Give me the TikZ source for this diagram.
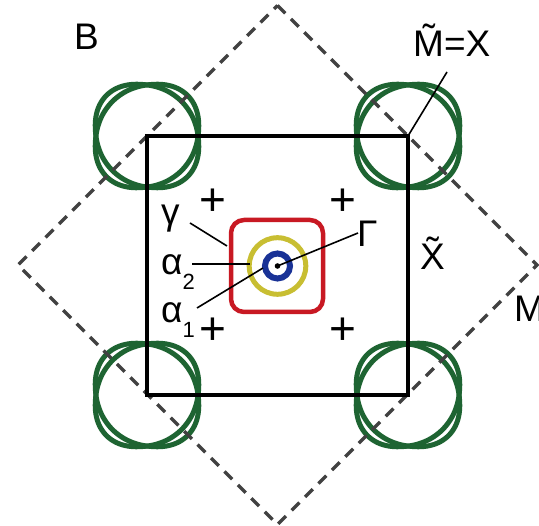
\documentclass[tikz,border=0pt]{standalone}
\usepackage{fontspec}
\setmainfont{Liberation Sans}
\definecolor{fsgreen}{RGB}{30,100,50}
\definecolor{fsred}{RGB}{200,25,35}
\definecolor{fsyellow}{RGB}{200,190,50}
\definecolor{fsblue}{RGB}{25,50,150}
\definecolor{dashgray}{RGB}{65,65,65}
\begin{document}
\begin{tikzpicture}[x=1pt,y=-1pt,
  lbl/.style={font=\fontsize{37}{44}\selectfont, inner sep=0pt, anchor=base west},
  pls/.style={font=\fontsize{46}{50}\selectfont, inner sep=0pt},
  leader/.style={line width=1.6pt, black},
  fsurf/.style={line width=5pt, draw=fsgreen},
  bzone/.style={line width=3.8pt, black, line join=miter},
  bzdash/.style={line width=3.3pt, draw=dashgray, dash pattern=on 11pt off 8pt}]
\useasboundingbox (0,0) rectangle (539,526);
% coordinates
\coordinate (tl) at (147,136);
\coordinate (tr) at (408,136);
\coordinate (bl) at (147,395);
\coordinate (br) at (408,395);
\coordinate (c) at (277.5,266);
\coordinate (dT) at (277.5,5.5);
\coordinate (dR) at (537,265);
\coordinate (dB) at (277.5,524.5);
\coordinate (dL) at (18,265);
% green pockets: two rounded loops stretched along the two diagonals
\foreach \p in {tl,tr,bl,br}{
  \begin{scope}[shift={(\p)}, cm={1,0.08,0.08,1,(0,0)}]
    \draw[fsurf] plot[domain=0.5:357.5, samples=120, smooth cycle, variable=\t]
      ({51.5*cos(\t)*pow(abs(cos(\t)),-0.09)}, {51.5*sin(\t)*pow(abs(sin(\t)),-0.09)});
  \end{scope}
  \begin{scope}[shift={(\p)}, cm={1,-0.08,-0.08,1,(0,0)}]
    \draw[fsurf] plot[domain=0.5:357.5, samples=120, smooth cycle, variable=\t]
      ({51.5*cos(\t)*pow(abs(cos(\t)),-0.09)}, {51.5*sin(\t)*pow(abs(sin(\t)),-0.09)});
  \end{scope}
}
% dashed diamond
\draw[bzdash] (dT) -- (dR) -- (dB) -- (dL) -- cycle;
% black square
\draw[bzone] (tl) -- (tr) -- (br) -- (bl) -- cycle;
% central pockets
\draw[line width=4.5pt, draw=fsred, rounded corners=13pt] (231,220) rectangle (323,312);
\draw[line width=5pt, draw=fsyellow] (c) circle (28.3pt);
\draw[line width=6pt, draw=fsblue] (c) circle (12.5pt);
\fill (c) circle (2.8pt);
% labels
\node[lbl] (B) at (74,50) {B};
\node[lbl] (MX) at (413,57) {\~{M}=X};
\node[lbl] (Xt) at (420,270) {\~{X}};
\node[lbl] (Mr) at (514,322) {M};
\node[lbl] (G) at (357,247) {Γ};
\node[lbl] (gam) at (161,225) {γ};
\node[lbl] (a2) at (161,275) {α\raisebox{-15pt}{\fontsize{22}{22}\selectfont 2}};
\node[lbl] (a1) at (161,323) {α\raisebox{-15pt}{\fontsize{22}{22}\selectfont 1}};
% plus signs
\node[pls] (p1) at (212.5,202.5) {+};
\node[pls] (p2) at (343,202.5) {+};
\node[pls] (p3) at (212.5,331.5) {+};
\node[pls] (p4) at (343,331.5) {+};
% leader lines
\coordinate (mxEnd) at (447,72);
\coordinate (gEnd) at (358,233);
\coordinate (gamS) at (190,223);
\coordinate (gamE) at (227,246);
\coordinate (a2S) at (192,264);
\coordinate (a2E) at (250,264);
\coordinate (a1S) at (197,308);
\coordinate (a1E) at (263,268);
\draw[leader] (tr) -- (mxEnd);
\draw[leader] (c) -- (gEnd);
\draw[leader] (gamS) -- (gamE);
\draw[leader] (a2S) -- (a2E);
\draw[leader] (a1S) -- (a1E);
\end{tikzpicture}
\end{document}
